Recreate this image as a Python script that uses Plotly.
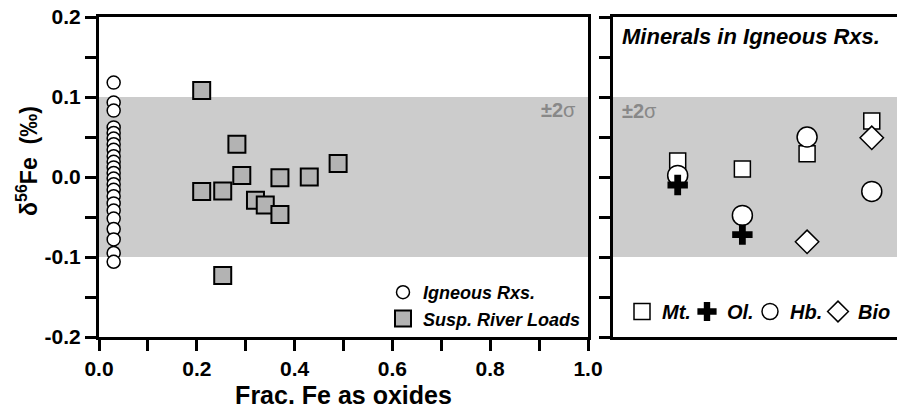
import plotly.graph_objects as go
import numpy as np

# ---- data ----
ign_x = [0.03] * 23
ign_y = [0.118, 0.093, 0.083, 0.062, 0.055, 0.048, 0.041, 0.034, 0.026, 0.019, 0.012,
         0.005, -0.002, -0.009, -0.016, -0.024, -0.033, -0.042, -0.052, -0.065, -0.078,
         -0.095, -0.106]
riv_x = [0.21, 0.21, 0.253, 0.253, 0.282, 0.292, 0.320, 0.340, 0.370, 0.370, 0.430, 0.489]
riv_y = [0.108, -0.018, -0.0175, -0.123, 0.041, 0.002, -0.029, -0.035, -0.047, -0.001, 0.0, 0.017]

groups = [1, 2, 3, 4]
mt = [0.020, 0.010, 0.029, 0.070]
ol = [-0.010, -0.072, None, None]
hb = [0.002, -0.048, 0.050, -0.018]
bio = [None, None, -0.081, 0.049]

yticks = [-0.2, -0.15, -0.1, -0.05, 0.0, 0.05, 0.1, 0.15, 0.2]
ytext = ["-0.2", "", "-0.1", "", "0.0", "", "0.1", "", "0.2"]
xticks = [0.0, 0.1, 0.2, 0.3, 0.4, 0.5, 0.6, 0.7, 0.8, 0.9, 1.0]
xtext = ["0.0", "", "0.2", "", "0.4", "", "0.6", "", "0.8", "", "1.0"]

FONT = "Liberation Sans, Arial, sans-serif"
W, H = 897, 409

fig = go.Figure()

fig.add_trace(go.Scatter(x=ign_x, y=ign_y, mode="markers", name="Igneous Rxs.",
                         marker=dict(symbol="circle", size=13, color="white",
                                     line=dict(color="black", width=1.5)),
                         xaxis="x", yaxis="y", legend="legend"))
fig.add_trace(go.Scatter(x=riv_x, y=riv_y, mode="markers", name="Susp. River Loads",
                         marker=dict(symbol="square", size=17, color="#b3b3b3",
                                     line=dict(color="black", width=2)),
                         xaxis="x", yaxis="y", legend="legend"))

fig.add_trace(go.Scatter(x=groups, y=mt, mode="markers", name="Mt.", legendrank=1,
                         legendwidth=20,
                         marker=dict(symbol="square", size=16, color="white",
                                     line=dict(color="black", width=1.5)),
                         xaxis="x2", yaxis="y2", legend="legend2"))
fig.add_trace(go.Scatter(x=groups, y=hb, mode="markers", name="Hb.", legendrank=3,
                         legendwidth=23,
                         marker=dict(symbol="circle", size=20, color="white",
                                     line=dict(color="black", width=1.5)),
                         xaxis="x2", yaxis="y2", legend="legend2"))
fig.add_trace(go.Scatter(x=groups, y=ol, mode="markers", name="Ol.", legendrank=2,
                         legendwidth=18,
                         marker=dict(symbol="cross", size=17, color="black",
                                     line=dict(color="black", width=0)),
                         xaxis="x2", yaxis="y2", legend="legend2"))
fig.add_trace(go.Scatter(x=groups, y=bio, mode="markers", name="Bio", legendrank=4,
                         legendwidth=40,
                         marker=dict(symbol="diamond", size=18, color="white",
                                     line=dict(color="black", width=1.5)),
                         xaxis="x2", yaxis="y2", legend="legend2"))

# grey +-2 sigma bands
for xr, yr in (("x domain", "y"), ("x2 domain", "y2")):
    fig.add_shape(type="rect", xref=xr, yref=yr, x0=0, x1=1, y0=-0.1, y1=0.1,
                  fillcolor="#cccccc", line=dict(width=0), layer="below")

axis_common = dict(showgrid=False, zeroline=False, showline=True, linecolor="black",
                   linewidth=3, ticks="outside", ticklen=11, tickwidth=3, tickcolor="black",
                   automargin=False,
                   tickfont=dict(family=FONT, size=21, color="black", weight="bold"))

fig.update_layout(
    width=W, height=H, margin=dict(l=0, r=0, t=0, b=0, autoexpand=False),
    plot_bgcolor="white", paper_bgcolor="white",
    xaxis=dict(domain=[99 / W, 588 / W], range=[0, 1], tickvals=xticks, ticktext=xtext,
               mirror=True, anchor="y",
               title=dict(text="Frac. Fe as oxides", standoff=8,
                          font=dict(family=FONT, size=25, color="black", weight="bold")),
               **axis_common),
    yaxis=dict(domain=[72 / H, 392 / H], range=[-0.2, 0.2], tickvals=yticks, ticktext=ytext,
               mirror=True, anchor="x", **axis_common),
    xaxis2=dict(domain=[613 / W, 1.0], range=[0, 4.39], anchor="y2", showgrid=False,
                zeroline=False, showline=True, linecolor="black", linewidth=3, mirror=True,
                showticklabels=False, ticks="", automargin=False),
    yaxis2=dict(domain=[72 / H, 392 / H], range=[-0.2, 0.2], anchor="x2", tickvals=yticks,
                showticklabels=False, showgrid=False, zeroline=False, showline=True,
                linecolor="black", linewidth=3, ticks="outside", ticklen=11, tickwidth=3,
                tickcolor="black", automargin=False),
    legend=dict(x=586 / W, xanchor="right", y=(H - 337) / H, yanchor="bottom",
                bgcolor="rgba(0,0,0,0)", tracegroupgap=0,
                font=dict(family=FONT, size=18, color="black", weight="bold", style="italic")),
    legend2=dict(orientation="h", x=622 / W, xanchor="left", y=(H - 331) / H, yanchor="bottom",
                 bgcolor="rgba(0,0,0,0)",
                 font=dict(family=FONT, size=20, color="black", weight="bold", style="italic")),
    showlegend=True,
)

fig.add_annotation(text="δ<sup>56</sup>Fe&nbsp;&nbsp;(‰)",
                   xref="paper", yref="paper",
                   x=27 / W, y=(H - 161) / H, xanchor="center", yanchor="middle",
                   textangle=-90, showarrow=False,
                   font=dict(family=FONT, size=23, color="black", weight="bold"))
fig.add_annotation(text="<b>±2</b>σ", xref="x domain", yref="y", x=0.98, y=0.084,
                   xanchor="right", yanchor="middle", showarrow=False,
                   font=dict(family=FONT, size=20, color="#888888"))
fig.add_annotation(text="<b>±2</b>σ", xref="x2 domain", yref="y2", x=0.025, y=0.082,
                   xanchor="left", yanchor="middle", showarrow=False,
                   font=dict(family=FONT, size=20, color="#888888"))
fig.add_annotation(text="Minerals in Igneous Rxs.", xref="x2 domain", yref="y2 domain",
                   x=0.025, y=0.94, xanchor="left", yanchor="middle", showarrow=False,
                   font=dict(family=FONT, size=22, color="black", weight="bold", style="italic"))

fig.write_html("out.html")
